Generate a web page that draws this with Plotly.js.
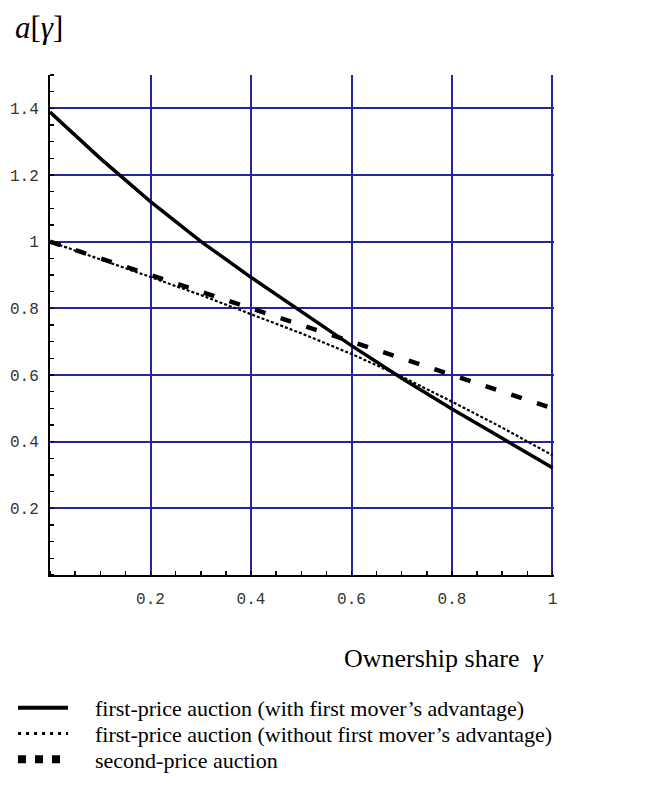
<!DOCTYPE html>
<html><head><meta charset="utf-8">
<script src="https://cdn.plot.ly/plotly-3.0.1.min.js"></script>
<style>html,body{margin:0;padding:0;background:#fff;}</style>
</head><body>
<div id="chart" style="width:652px;height:793px;"></div>
<script>
// Ownership share gamma
const gamma = [0, 0.1, 0.2, 0.3, 0.4, 0.5, 0.6, 0.7, 0.8, 0.9, 1.0];
// first-price auction (with first mover's advantage)
const firstPriceWith = [1.389, 1.25, 1.12, 1.001, 0.893, 0.79, 0.688, 0.59, 0.498, 0.41, 0.322];
// first-price auction (without first mover's advantage)
const firstPriceWithout = [1.0, 0.948, 0.894, 0.84, 0.782, 0.725, 0.663, 0.595, 0.52, 0.442, 0.359];
// second-price auction
const secondPrice = [1.0, 0.95, 0.9, 0.85, 0.8, 0.75, 0.7, 0.65, 0.6, 0.55, 0.5];

const xTickVals = [0.2, 0.4, 0.6, 0.8, 1];
const xTickText = ['0.2', '0.4', '0.6', '0.8', '1'];
const yTickVals = [0.2, 0.4, 0.6, 0.8, 1, 1.2, 1.4];
const yTickText = ['0.2', '0.4', '0.6', '0.8', '1', '1.2', '1.4'];

const seriesNames = [
  'first-price auction (with first mover\u2019s advantage)',
  'first-price auction (without first mover\u2019s advantage)',
  'second-price auction'
];

const pad = '\u00a0\u00a0\u00a0\u00a0';

const traces = [
  {x: gamma, y: firstPriceWith, name: seriesNames[0], mode: 'lines', showlegend: false,
   line: {color: '#000', width: 3.5}},
  {x: gamma, y: firstPriceWithout, name: seriesNames[1], mode: 'lines', showlegend: false,
   line: {color: '#000', width: 2.2, dash: '3px,2px'}},
  {x: gamma, y: secondPrice, name: seriesNames[2], mode: 'lines', showlegend: false,
   line: {color: '#000', width: 4.5, dash: '11px,16px'}},
  // legend keys (no data of their own)
  {x: [null], y: [null], name: pad + seriesNames[0], mode: 'lines', legend: 'legend',
   line: {color: '#000', width: 4}},
  {x: [null], y: [null], name: pad + seriesNames[1], mode: 'lines', legend: 'legend2',
   line: {color: '#000', width: 3, dash: '3px,5px'}},
  {x: [null], y: [null], name: pad + seriesNames[2], mode: 'lines', legend: 'legend3',
   line: {color: '#000', width: 8, dash: '8px,9px'}}
];

const gridColor = '#24249e';
const tickFont = {family: 'Liberation Mono, DejaVu Sans Mono, monospace', size: 16, color: '#333'};
const serif = 'Liberation Serif, Times New Roman, serif';
const legendBase = {
  xanchor: 'left', yanchor: 'middle', x: -0.0734,
  font: {family: serif, size: 22, color: '#000'},
  bgcolor: 'rgba(0,0,0,0)', itemwidth: 50,
  itemclick: false, itemdoubleclick: false
};

const layout = {
  width: 652, height: 793,
  margin: {l: 50, r: 98, t: 75, b: 214, pad: 0},
  paper_bgcolor: '#fff', plot_bgcolor: '#fff',
  showlegend: true,
  legend: Object.assign({}, legendBase, {y: -0.2659}),
  legend2: Object.assign({}, legendBase, {y: -0.3175}),
  legend3: Object.assign({}, legendBase, {y: -0.369}),
  xaxis: {
    range: [0, 1.003], tickmode: 'array', tickvals: xTickVals, ticktext: xTickText,
    showgrid: true, gridcolor: gridColor, gridwidth: 2,
    zeroline: false, showline: true, linecolor: '#000', linewidth: 2,
    ticks: '', ticklabelstandoff: 8, tickfont: tickFont,
    minor: {tickmode: 'linear', tick0: 0, dtick: 0.05, ticks: 'inside', ticklen: 4, tickwidth: 1.5, tickcolor: '#000', showgrid: false},
    fixedrange: true
  },
  yaxis: {
    range: [0, 1.5], tickmode: 'array', tickvals: yTickVals, ticktext: yTickText,
    showgrid: true, gridcolor: gridColor, gridwidth: 2,
    zeroline: false, showline: true, linecolor: '#000', linewidth: 2,
    ticks: '', ticklabelstandoff: 6, tickfont: tickFont,
    minor: {tickmode: 'linear', tick0: 0, dtick: 0.05, ticks: 'inside', ticklen: 4, tickwidth: 1.5, tickcolor: '#000', showgrid: false},
    fixedrange: true
  },
  annotations: [
    {text: '<i>a</i>[<i>\u03b3</i>]', xref: 'paper', yref: 'paper', x: -0.0734, y: 1.095,
     xanchor: 'left', yanchor: 'middle', showarrow: false,
     font: {family: serif, size: 31, color: '#000'}},
    {text: 'Ownership share\u00a0\u00a0<i>\u03b3</i>', xref: 'paper', yref: 'paper', x: 0.579, y: -0.1667,
     xanchor: 'left', yanchor: 'middle', showarrow: false,
     font: {family: serif, size: 26, color: '#000'}}
  ]
};

Plotly.newPlot('chart', traces, layout, {displayModeBar: false, staticPlot: true});
</script>
</body></html>
